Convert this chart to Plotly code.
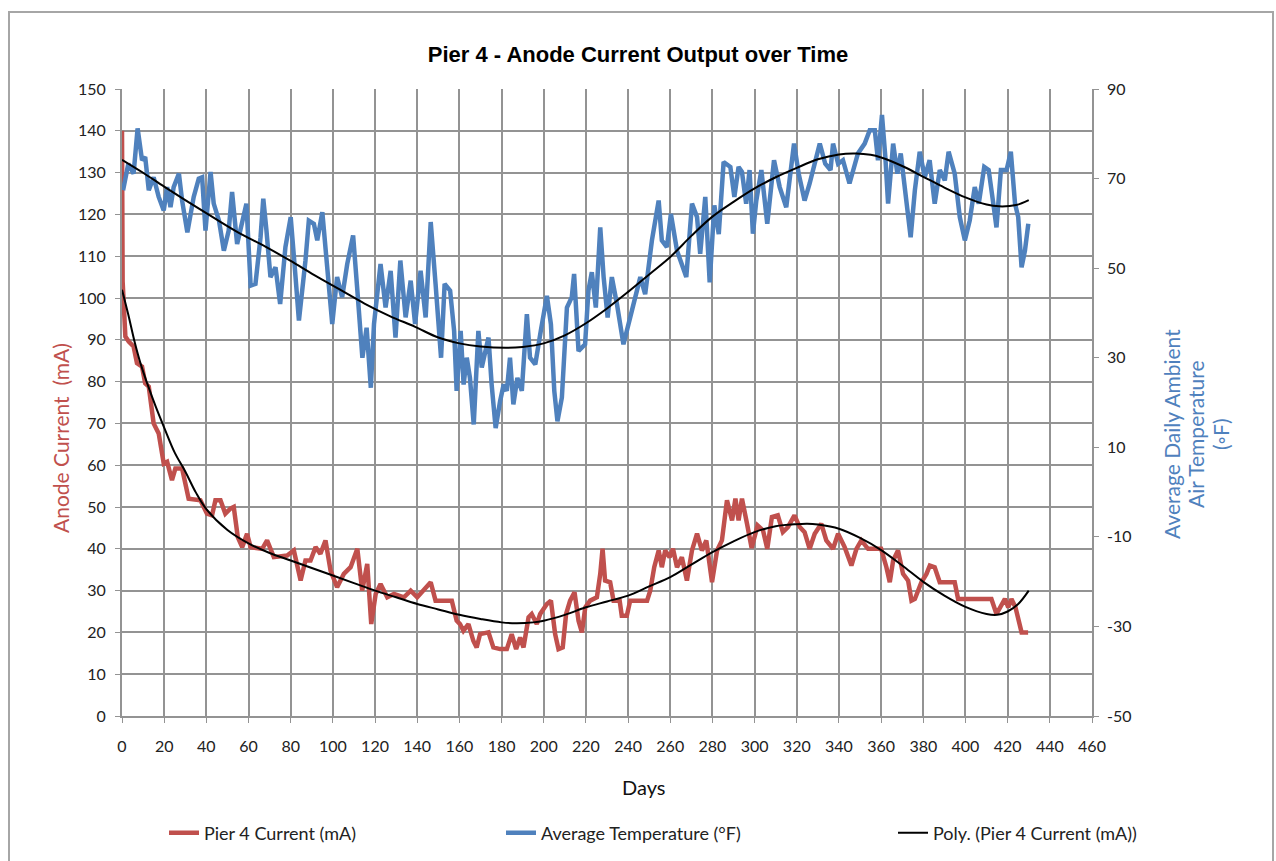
import plotly.graph_objects as go

# ---------------- data ----------------
current_days = [0, 0.3, 1.6, 3.2, 5.5, 7.1, 9.5, 11, 12.7, 15, 17.4, 19.8, 21.4, 23.7, 25.3, 28.5, 31.6, 37.2,
                40.3, 42.7, 44.3, 46.7, 49, 51.4, 53, 54.9, 57, 59.3, 61, 66.5, 68.8, 72, 78.3, 81.5, 84.7, 87,
                89.4, 91.8, 94.1, 96.5, 98.9, 102, 105.2, 108.4, 111.6, 113.9, 116.3, 118.2, 120.3, 122.6, 125.8,
                129, 133.7, 136.9, 140, 144, 146.4, 148.7, 153.2, 156.4, 158.7, 160.3, 161.9, 164.3, 166.6, 168.2,
                169.8, 173.8, 176.1, 179.3, 182.5, 184.8, 186.9, 188.8, 190.4, 192.8, 194.3, 196.7, 198.3, 201.5,
                203.4, 205.4, 207, 209, 210.6, 212.5, 214.6, 216.5, 218.1, 219.7, 222, 225.2, 226.8, 227.9, 229.1,
                231.5, 233.1, 236, 237, 239.4, 241, 249, 250.5, 252.4, 254.5, 256, 257.6, 259.7, 261.3, 263.2,
                265.5, 267.9, 270.3, 272.7, 275, 277.1, 279.8, 282.2, 284.5, 286.9, 289.3, 290.9, 292.4, 294,
                296.4, 298.6, 301.4, 304, 306, 308.2, 311, 313.4, 315.8, 318.9, 321.4, 323.7, 326.1, 328.5, 331.6,
                334, 337.2, 339.6, 342.7, 345.9, 348.3, 350.6, 353.8, 360, 362.5, 364.1, 365.7, 368, 370.4, 372.8,
                374.4, 376, 379.1, 381.5, 383.1, 385.4, 387.8, 394.9, 396.5, 412.3, 414.7, 416.3, 418.7, 420.3,
                421.8, 423.7, 425, 426.6, 429.7]
current_mA = [140, 104, 90.8, 89.6, 88.4, 84.4, 83.6, 79.6, 78.8, 70, 67.6, 60.4, 60.8, 56.4, 59.2, 59.2, 52, 51.6,
              48.4, 48, 51.6, 51.6, 48.4, 49.6, 50, 42.8, 40.4, 43.6, 40.4, 40, 42, 38, 38.4, 39.6, 32.4, 37.2,
              37.2, 40.4, 38.8, 42, 34.8, 30.8, 34, 35.6, 40, 30, 36.4, 22, 29.2, 31.6, 28.4,
              29.2, 28.4, 30, 28.4, 30.8, 32, 27.6, 27.6, 27.6, 22.8, 22, 20.4, 22, 18, 16.4,
              19.6, 20, 16.4, 16, 16, 19.6, 16, 18.8, 16.4, 23.6, 24.4, 22, 24.4, 26.8,
              27.6, 19.6, 16, 16.4, 24.4, 27.6, 29.6, 22.8, 20, 26, 27.6, 28.4, 34, 40, 32.4,
              32, 27.6, 27.6, 24, 24, 27.6, 27.6, 30, 35.6, 39.6, 35.6, 39.6, 38, 40, 35.6,
              38, 32.4, 39.6, 43.6, 39.6, 42, 32, 39.6, 42, 51.6, 46.8, 52, 46.8, 52,
              46, 40.2, 45.6, 44.4, 40, 47.6, 48, 44, 45.2, 48, 45.2, 44, 40, 43.6, 46,
              42, 40, 43.6, 40.4, 36, 40, 42, 40, 40, 35.6, 32, 37.2, 39.6, 34, 32.4,
              27.6, 28, 32, 34, 36, 35.6, 32, 32, 28, 28, 24.4, 26, 28, 26,
              28, 26, 23.6, 20, 20]

temp_days = [0.5, 3, 5.5, 7.4, 9.5, 11, 12.7, 15, 17.4, 19.8, 21.4, 23, 24.5, 27, 28.5, 31, 34, 36.4, 38, 39.6,
             42, 43.5, 46, 48.3, 50.6, 52.2, 54.6, 57, 59, 61, 63.3, 65.7, 67, 68.5, 70.4, 72.8, 75, 77.5, 80,
             82.3, 83.9, 87, 88.6, 91, 92.6, 95, 97.3, 99.7, 102, 104.4, 106.8, 109.6, 111.5, 114, 116, 118,
             119.5, 122.6, 125, 127.4, 129.7, 132, 134.5, 136.9, 139, 141.6, 144, 146.4, 148.7, 151.3, 153,
             155.6, 157.5, 158.7, 160.6, 162, 163.5, 165, 166.8, 169, 170.6, 173.8, 175.3, 177.2, 179.3, 181,
             182.5, 184, 185.6, 187.5, 189.6, 192, 193.5, 196, 198.6, 201.5, 203.4, 205, 206.5, 208.6, 211,
             213.3, 214.4, 216.5, 219.6, 221.2, 222.8, 224.7, 226.8, 228.4, 230.3, 232.3, 234.7, 237.8, 241,
             244.2, 245.8, 248.1, 251.3, 254.5, 256, 258.4, 260.3, 263.2, 267.6, 270.3, 272.7, 274.2, 276.6,
             278.7, 280.9, 283, 285.3, 288.5, 290.4, 292.4, 294, 296, 297.6, 299.2, 300.8, 303.2, 306, 309.2,
             311.9, 315, 318.7, 320.9, 323.7, 326.1, 328.2, 330.9, 333.5, 336, 337.2, 339.6, 341.9, 345, 349,
             352.2, 354.6, 357, 358.5, 360.4, 362, 363.3, 365.7, 367.7, 369.3, 371.5, 374, 376, 378.3, 380.7,
             383, 385.4, 387.8, 390.2, 392, 394.9, 397.3, 399.7, 402, 404.4, 406.3, 408.9, 411, 413, 414.7,
             416.8, 419.5, 421.5, 423.5, 425, 426.6, 428.2, 429.8]
temp_F = [67.4, 73.3, 71.1, 81.2, 74.1, 74.8, 67.4, 70.3, 65.9, 62.9, 68.1, 63.6, 68.1, 71.1, 65.1, 58.0, 65.9, 70.0,
          70.3, 58.4, 71.5, 64.4, 60.6, 53.9, 58.4, 67.0, 55.4, 61.0, 64.4, 46.1, 46.5, 56.9, 65.5, 58.4, 48.0,
          50.2, 42.0, 54.7, 61.4, 48.0, 38.3, 51.7, 60.6, 59.9, 56.2, 62.5, 50.9, 37.5, 48.0, 43.5, 50.9, 57.3,
          45.7, 30.0, 36.7, 23.3, 37.5, 50.9, 41.2, 49.4, 34.5, 51.7, 39.0, 47.2, 37.5, 49.4, 39.0, 60.3, 46.5,
          30.0, 46.5, 45, 36, 22.6, 36, 24, 30, 25.5, 15.1, 36, 27.8, 34.5, 24, 14.3, 20.3, 24, 22.6, 30, 19.6,
          25.5, 22.6, 39.7, 30, 28.5, 36, 43.8, 37.5, 22.6, 15.8, 21.1, 41.2, 43.5, 48.7, 31.5, 33, 45, 49.1,
          41.2, 59.1, 48, 39, 48, 42, 33, 39, 45, 48, 44.2, 56.2, 65.1, 56.2, 54.7, 62.1, 53.9, 48, 64.4, 61.4,
          53.2, 65.9, 46.8, 64, 57.6, 73.7, 72.6, 65.9, 72.6, 71.5, 64.4, 71.9, 57.7, 65.1, 71.9, 59.9, 74.1,
          68.1, 63.6, 77.8, 71.1, 65.1, 68.9, 72.6, 77.8, 73.3, 71.9, 77.8, 73.3, 74.1, 68.9, 75.6, 77.8, 80.8,
          80.8, 74.1, 84.2, 74.8, 64.4, 77.8, 71.1, 75.6, 65.9, 56.9, 67.4, 76, 70.3, 74.1, 64.4, 71.9, 69.6,
          76, 71.1, 61.4, 56.2, 60.6, 68.1, 64.4, 72.6, 71.9, 65.1, 59.1, 71.9, 71.9, 76, 64.4, 61.4, 50.2,
          53.9, 59.9]

current_trend_days = [0, 3, 6, 9, 12, 16, 20, 25, 30, 35, 40, 50, 60, 70, 80, 90, 100, 110, 120, 130, 140, 150,
                      160, 170, 180, 187, 195, 200, 210, 220, 230, 240, 250, 260, 270, 280, 290, 300, 310, 320,
                      325, 330, 340, 350, 360, 370, 380, 390, 400, 410, 415, 420, 425, 430]
current_trend_mA = [102, 96, 89.5, 84, 79.5, 74, 69, 63, 58.5, 53.5, 49.5, 44.5, 41.3, 39, 37.2, 35.4, 33.6, 31.8,
                    30, 28.4, 26.8, 25.5, 24.2, 23.2, 22.4, 22.2, 22.4, 22.8, 24.2, 26, 27.4, 28.8, 31, 33.2,
                    36.2, 39.2, 41.8, 44, 45.4, 45.9, 46, 45.8, 44.8, 42.6, 39.7, 36, 32.1, 28.8, 26.1, 24.4,
                    24.2, 25, 26.8, 30]

temp_trend_days = [0, 10, 20, 30, 44, 55, 68, 80, 91, 103, 115, 127, 139, 150, 160, 170, 182, 190, 200, 210, 220,
                   230, 240, 250, 260, 270, 280, 290, 300, 310, 320, 330, 340, 348, 355, 360, 370, 380, 390, 400,
                   410, 416, 424, 430]
temp_trend_F = [74.2, 71.3, 68.2, 65.2, 61.1, 58, 54.8, 51.6, 48.5, 45.3, 42.1, 39.3, 36.9, 34.5, 33.2, 32.5, 32.2,
                32.4, 33.2, 35, 37.7, 41, 44.7, 48.6, 52.5, 57.2, 61.5, 64.8, 67.8, 70.3, 72.4, 74.3, 75.4, 75.6,
                75.3, 74.7, 72.8, 70.4, 68.0, 65.8, 64.2, 63.8, 64.1, 65.2]

x_ticks = list(range(0, 461, 20))
y_ticks = list(range(0, 151, 10))
y2_ticks = list(range(-50, 91, 20))
y2_labels = [str(v) for v in y2_ticks]  # plain hyphen-minus as in the original
right_title_lines = ["Average Daily Ambient", "Air Temperature", "(◦F)"]

# ---------------- figure ----------------
RED = "#C0504D"
BLUE = "#4F81BD"
GRID = "#939393"
FONT = "Lato, Carlito, sans-serif"
TICKFONT = dict(family=FONT, size=16, color="#222222")

fig = go.Figure()
fig.add_trace(go.Scatter(x=current_days, y=current_mA, mode="lines", name="Pier 4 Current (mA)",
                         line=dict(color=RED, width=4.5), legend="legend"))
fig.add_trace(go.Scatter(x=temp_days, y=temp_F, mode="lines", name="Average Temperature (°F)",
                         line=dict(color=BLUE, width=4.5), yaxis="y2", legend="legend"))
fig.add_trace(go.Scatter(x=current_trend_days, y=current_trend_mA, mode="lines",
                         name="Poly. (Pier 4 Current (mA))",
                         line=dict(color="#000000", width=2, shape="spline"), legend="legend2"))
fig.add_trace(go.Scatter(x=temp_trend_days, y=temp_trend_F, mode="lines", showlegend=False,
                         name="Poly. (Average Temperature (°F))",
                         line=dict(color="#000000", width=2, shape="spline"), yaxis="y2"))

W, H = 1276, 861
L, R, T, B = 122, 184, 89, 145
PW, PH = W - L - R, H - T - B


def px(x):
    return (x - L) / PW


def py(y):
    return (H - B - y) / PH


legend_common = dict(orientation="h", yref="container", y=1 - 833 / H, yanchor="middle", xanchor="left",
                     font=dict(family=FONT, size=18, color="#222222"), bgcolor="rgba(0,0,0,0)")

fig.update_layout(
    width=W, height=H,
    margin=dict(l=L, r=R, t=T, b=B),
    paper_bgcolor="white", plot_bgcolor="white",
    title=dict(text="<b>Pier 4 - Anode Current Output over Time</b>", x=0.5, xref="container",
               y=1 - 54 / H, yref="container", xanchor="center", yanchor="middle",
               font=dict(family="Liberation Sans, Arial, sans-serif", size=22, color="#000000")),
    xaxis=dict(range=[0, 460], tickvals=x_ticks, showgrid=True, gridcolor=GRID, gridwidth=1.8,
               showline=True, linecolor=GRID, linewidth=1.8, ticks="outside", ticklen=5,
               tickcolor=GRID, tickfont=TICKFONT, zeroline=False, ticklabelstandoff=10),
    yaxis=dict(range=[0, 150], tickvals=y_ticks, showgrid=True, gridcolor=GRID, gridwidth=1.8,
               showline=True, linecolor=GRID, linewidth=1.8, ticks="outside", ticklen=5,
               tickcolor=GRID, tickfont=TICKFONT, zeroline=False, ticklabelstandoff=6),
    yaxis2=dict(range=[-50, 90], tickvals=y2_ticks, ticktext=y2_labels, overlaying="y", side="right",
                showgrid=False, showline=True, linecolor=GRID, linewidth=1.8, ticks="outside", ticklen=5,
                tickcolor=GRID, tickfont=TICKFONT, zeroline=False, ticklabelstandoff=5),
    legend=dict(x=px(164), entrywidth=292, entrywidthmode="pixels", **legend_common),
    legend2=dict(x=px(893), **legend_common),
    showlegend=True,
)

fig.add_annotation(text="Days", x=px(643), y=py(787), xref="paper", yref="paper", showarrow=False,
                   xanchor="center", yanchor="middle",
                   font=dict(family=FONT, size=20, color="#111111"))
fig.add_annotation(text="Anode Current  (mA)", x=px(60), y=py(438), xref="paper", yref="paper",
                   showarrow=False, textangle=-90, xanchor="center", yanchor="middle",
                   font=dict(family=FONT, size=21, color=RED))
for line_text, line_x in zip(right_title_lines, [1171, 1195, 1220]):
    fig.add_annotation(text=line_text, x=px(line_x), y=py(434), xref="paper", yref="paper",
                       showarrow=False, textangle=-90, xanchor="center", yanchor="middle",
                       font=dict(family=FONT, size=21, color=BLUE))

fig.add_shape(type="rect", xref="paper", yref="paper", x0=px(9), x1=px(1273), y0=py(875), y1=py(12),
              line=dict(color="#A6A6A6", width=2), layer="below")

fig.write_html("out.html", config={"displayModeBar": False},
               post_script="document.body.style.margin='0';document.body.style.overflow='hidden';")
